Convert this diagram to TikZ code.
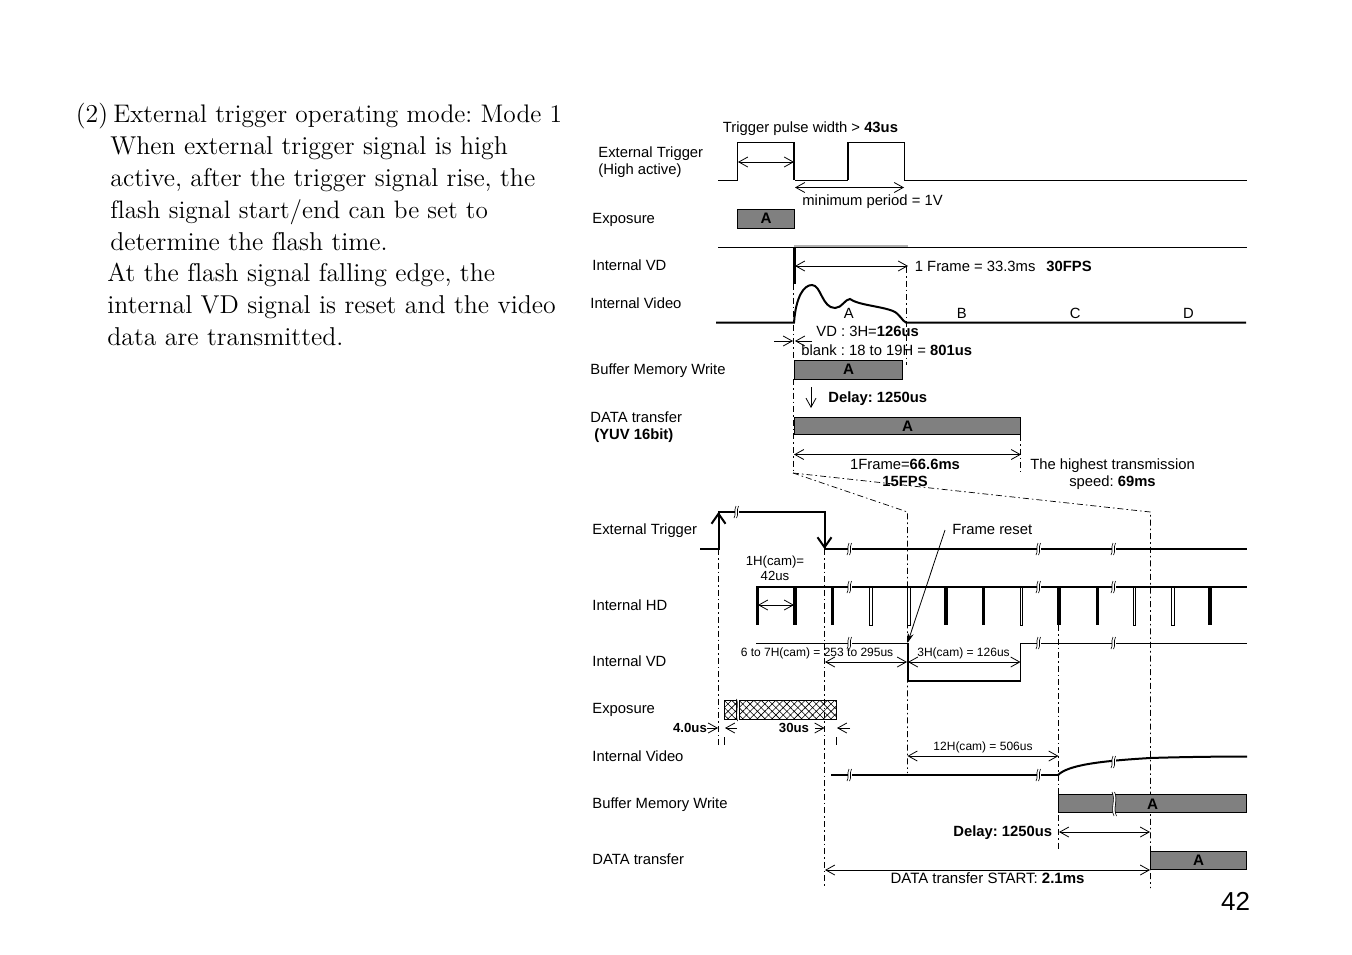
\documentclass[tikz,border=0pt]{standalone}
\usepackage{fontspec}
\setmainfont{Latin Modern Roman}[Ligatures=NoCommon]
\setsansfont{Liberation Sans}
\usetikzlibrary{arrows.meta}
\usetikzlibrary{patterns.meta}
\usetikzlibrary{positioning}

\frenchspacing
\tikzset{
  lbl/.style={anchor=west,inner sep=0pt,font=\sffamily\fontsize{7.4}{9}\selectfont,text height=7.3pt,text depth=1.6pt},
  mid/.style={lbl,anchor=center},
  tiny/.style={mid,font=\sffamily\fontsize{6}{8}\selectfont},
  tinybold/.style={mid,font=\sffamily\bfseries\fontsize{6.6}{8}\selectfont},
  para/.style={anchor=base west,inner sep=0pt,font=\fontsize{12.9}{15}\selectfont},
  databox/.style={draw,fill=black!50,line width=.5pt,inner sep=0pt,font=\sffamily\bfseries\fontsize{7.6}{9}\selectfont,text height=5.3pt,text depth=0pt},
  sig/.style={line width=.5pt},
  sigthick/.style={line width=1pt},
  cut/.style={line width=.35pt,dash pattern=on 3pt off 1.5pt on .8pt off 1.5pt},
  dim/.style={line width=.4pt,{Straight Barb[length=4.5pt,width=5pt]}-{Straight Barb[length=4.5pt,width=5pt]}},
  single/.style={line width=.4pt,-{Straight Barb[length=4.5pt,width=5pt]}},
  hatched/.style={sig,pattern={Hatch[angle=45,distance=2.6pt,line width=.3pt]}},
  brk/.pic={
    \fill[white] (-2,-5) rectangle (1.5,5);
    \draw[line width=.3pt] (-3,6) .. controls (-.5,2) and (-3.5,-1) .. (-1,-6);
    \draw[line width=.3pt] (-.5,6) .. controls (2,2) and (-1,-1) .. (1.5,-6);
  }
}

\begin{document}
\begin{tikzpicture}[x=.5pt,y=-.5pt]
  \useasboundingbox (0,0) rectangle (1352,954);

  % text on the left
  \node (par0) [para] at (75.5,122) {(2)};
  \node (par1) [para,font=\fontsize{12.7}{15}\selectfont] at (113,122) {External trigger operating mode: Mode 1};
  \node (par2) [para] at (110,154) {When external trigger signal is high};
  \node (par3) [para] at (110,186) {active, after the trigger signal rise, the};
  \node (par4) [para,font=\fontsize{12.6}{15}\selectfont] at (110,218) {flash signal start/end can be set to};
  \node (par5) [para] at (110,250) {determine the flash time.};
  \node (par6) [para] at (107,281) {At the flash signal falling edge, the};
  \node (par7) [para] at (107,313) {internal VD signal is reset and the video};
  \node (par8) [para] at (107,345) {data are transmitted.};

  % upper chart, names of the signals
  \node (extA) [lbl] at (598,152) {External Trigger};
  \node (extB) [lbl] at (598,169) {(High active)};
  \node (expo) [lbl] at (592,218) {Exposure};
  \node (vd) [lbl] at (592,265) {Internal VD};
  \node (video) [lbl] at (590,303) {Internal Video};
  \node (buf) [lbl] at (590,369) {Buffer Memory Write};
  \node (dataA) [lbl] at (590,417) {DATA transfer};
  \node (dataB) [lbl] at (594,434) {\bfseries (YUV 16bit)};

  % upper chart, signals
  \draw[sig] (718,180) -- (737.5,180) -- (737.5,142) -- (794,142);
  \draw[sig] (848,142) -- (904,142) -- (904,180) -- (1247,180);
  \draw[sig] (795,180) -- (848,180);
  \draw[sigthick] (794,142) -- (794,180) (848,142) -- (848,180);
  \draw[sig] (718,247) -- (1247,247);
  \draw[line width=.6pt,black!30] (794,246) -- (908,246);
  \draw[line width=1.5pt] (794.5,247) -- (794.5,284);
  \draw[sigthick] (716,322.5) -- (794,322.5)
    .. controls (796,296) and (804,285) .. (812,285)
    .. controls (821,285) and (822,308) .. (835,308)
    .. controls (842,308) and (845,299) .. (850,299)
    .. controls (858,305) and (880,306) .. (893,311)
    .. controls (900,314) and (902,321) .. (906,322.5) -- (1246,322.5);
  \node (frmA) [mid] at (848.7,313) {A};
  \node (frmB) [mid] at (961.7,313) {B};
  \node (frmC) [mid] at (1075.3,313) {C};
  \node (frmD) [mid] at (1188.5,313) {D};

  % upper chart, boxes
  \node (boxE) [databox,minimum width=28.5pt,minimum height=9.5pt] at (766,218.5) {A};
  \node (boxB) [databox,minimum width=54pt,minimum height=9.5pt] at (848.5,369.5) {A};
  \node (boxD) [databox,minimum width=113pt,minimum height=8.8pt] at (907.5,426) {A};

  % upper chart, cut lines
  \draw[cut] (793.5,284) -- (793.5,360) (793.5,379) -- (793.5,473);
  \draw[cut] (906.5,267) -- (906.5,365);
  \draw[cut] (1020.5,435) -- (1020.5,472);
  \draw[cut] (793,473) -- (907.5,512) -- (907.5,773);
  \draw[cut] (793,473) -- (1150.5,512) -- (1150.5,888);

  % upper chart, arrows
  \coordinate (wA) at (738,162); \coordinate (wB) at (794,162);
  \coordinate (pA) at (795,187.5); \coordinate (pB) at (904,187.5);
  \coordinate (fA) at (795,266); \coordinate (fB) at (908,266);
  \coordinate (tA) at (794,454.5); \coordinate (tB) at (1021,454.5);
  \coordinate (bA) at (774,341); \coordinate (bB) at (793,341);
  \coordinate (cA) at (812,341); \coordinate (cB) at (795,341);
  \coordinate (dA) at (811,387); \coordinate (dB) at (811,408);
  \path[dim]
    (wA) edge (wB)
    (pA) edge (pB)
    (fA) edge (fB)
    (tA) edge (tB);
  \path[single]
    (bA) edge (bB)
    (cA) edge (cB)
    (dA) edge (dB);

  % upper chart, notes
  \node (wid) [lbl] at (722.5,127) {Trigger pulse width > \textbf{43us}};
  \node (per) [lbl] at (802,200) {minimum period = 1V};
  \node (frm) [lbl] at (914.5,266) {1 Frame = 33.3ms\hspace{5.5pt}\textbf{30FPS}};
  \node (vdh) [lbl] at (816,331) {VD : 3H=\textbf{126us}};
  \node (blk) [lbl] at (801,350) {blank : 18 to 19H = \textbf{801us}};
  \node (dly) [lbl] at (828,397) {\bfseries Delay: 1250us};
  \node (fps) [mid] at (905,464) {1Frame=\textbf{66.6ms}};
  \node (fpsB) [mid] at (905,481) {\bfseries 15FPS};
  \node (spd) [mid] at (1112.5,464) {The highest transmission};
  \node (spdB) [mid] at (1112.5,481) {speed: \textbf{69ms}};

  % lower chart, names of the signals
  \node (ext2) [lbl] at (592,529) {External Trigger};
  \node (hd2) [lbl] at (592,605) {Internal HD};
  \node (vd2) [lbl] at (592,661) {Internal VD};
  \node (expo2) [lbl] at (592,708) {Exposure};
  \node (video2) [lbl] at (592,756) {Internal Video};
  \node (buf2) [lbl] at (592,803) {Buffer Memory Write};
  \node (data2) [lbl] at (592,859) {DATA transfer};

  % lower chart, signals
  \draw[cut] (718.5,549) -- (718.5,747);
  \draw[cut] (824.5,549) -- (824.5,888);
  \draw[cut] (1058.5,625) -- (1058.5,850);
  \draw[sigthick] (700,549) -- (718.5,549) -- (718.5,512) -- (824.5,512) -- (824.5,549) -- (1247,549);
  \draw[sigthick,-{Straight Barb[length=5pt,width=7pt]}] (718.5,535) -- (718.5,512);
  \draw[sigthick,-{Straight Barb[length=5pt,width=7pt]}] (824.5,525) -- (824.5,549);

  \draw[sigthick] (756,587) -- (1247,587);
  \draw[line width=1.5pt] (757.5,587) -- (757.5,625) (832.5,587) -- (832.5,625)
    (983.5,587) -- (983.5,625) (1097,587) -- (1097,625);
  \draw[line width=2pt] (795,587) -- (795,625) (946,587) -- (946,625) (1059,587) -- (1059,625) (1210,587) -- (1210,625);
  \draw[sig,fill=white] (869.5,587) rectangle (872,625);
  \draw[sig,fill=white] (907.5,587) rectangle (910,625);
  \draw[sig,fill=white] (1020,587) rectangle (1022.5,625);
  \draw[sig,fill=white] (1133,587) rectangle (1135.5,625);
  \draw[sig,fill=white] (1171.5,587) rectangle (1174,625);

  \draw[sig] (756,643) -- (907.5,643);
  \draw[sigthick] (907.5,643) -- (907.5,681) -- (1020.5,681);
  \draw[sig] (1020.5,681) -- (1020.5,643) -- (1247,643);

  \draw[sigthick] (831,775) -- (1058,775);
  \draw[sigthick] (1058,775) .. controls (1068,765) and (1100,761) .. (1150,758) .. controls (1180,757) and (1220,756.5) .. (1247,756.5);

  % lower chart, breaks
  \pic at (737,512) {brk};
  \pic at (850,549) {brk};
  \pic at (1039,549) {brk};
  \pic at (1114,549) {brk};
  \pic at (850,587) {brk};
  \pic at (1039,587) {brk};
  \pic at (1114,587) {brk};
  \pic at (850,643) {brk};
  \pic at (1039,643) {brk};
  \pic at (1114,643) {brk};
  \pic at (850,775) {brk};
  \pic at (1039,775) {brk};
  \pic at (1114,762) {brk};

  % lower chart, exposure
  \draw[hatched] (724,700.5) rectangle (736,719.5);
  \draw[hatched] (739,700.5) rectangle (836.5,719.5);
  \draw[line width=.3pt] (736.5,699) .. controls (739,705) and (735,714) .. (737.5,721);
  \draw[sig] (724.5,737) -- (724.5,745) (836.5,737) -- (836.5,745);

  % lower chart, boxes
  \node (boxB2) [databox,minimum width=94pt,minimum height=9.3pt,text height=0pt] at (1152.5,803.5) {};
  \draw[white,line width=1pt] (1113,792) .. controls (1117,800) and (1111,808) .. (1115,816);
  \draw[line width=.3pt] (1112,792) .. controls (1116,800) and (1110,808) .. (1114,816);
  \draw[line width=.3pt] (1114.5,792) .. controls (1118.5,800) and (1112.5,808) .. (1116.5,816);
  \node (boxA2) [mid,font=\sffamily\bfseries\fontsize{7.6}{9}\selectfont] at (boxB2) {A};
  \node (boxD2) [databox,minimum width=48pt,minimum height=9.3pt] at (1198.5,860.5) {A};

  % lower chart, arrows
  \coordinate (hA) at (758,605); \coordinate (hB) at (794,605);
  \coordinate (sA) at (825,662); \coordinate (sB) at (907,662);
  \coordinate (rA) at (908,662); \coordinate (rB) at (1020.5,662);
  \coordinate (lA) at (907.5,756); \coordinate (lB) at (1058.5,756);
  \coordinate (yA) at (1059,832); \coordinate (yB) at (1150,832);
  \coordinate (xA) at (825,870); \coordinate (xB) at (1150,870);
  \coordinate (eA) at (707,728); \coordinate (eB) at (718,728);
  \coordinate (eC) at (737,728); \coordinate (eD) at (725,728);
  \coordinate (eE) at (815,728); \coordinate (eF) at (824.5,728);
  \coordinate (eG) at (850,728); \coordinate (eH) at (837,728);
  \coordinate (rst) at (945,530); \coordinate (rstB) at (907.5,643);
  \path[dim]
    (hA) edge (hB)
    (sA) edge (sB)
    (rA) edge (rB)
    (lA) edge (lB)
    (yA) edge (yB)
    (xA) edge (xB);
  \path[single]
    (eA) edge (eB)
    (eC) edge (eD)
    (eE) edge (eF)
    (eG) edge (eH);
  \draw[line width=.4pt,-{Stealth[length=5pt,width=3pt]}] (rst) -- (rstB);

  % lower chart, notes
  \node (rsttx) [lbl] at (952,529) {Frame reset};
  \node (hcam) [mid,font=\sffamily\fontsize{6.6}{8}\selectfont] at (775,560) {1H(cam)=};
  \node (hcamB) [mid,font=\sffamily\fontsize{6.6}{8}\selectfont] at (775,575) {42us};
  \node (sev) [tiny] at (817,651) {6 to 7H(cam) = 253 to 295us};
  \node (thr) [tiny] at (963.5,651) {3H(cam) = 126us};
  \node (twl) [tiny] at (983,745) {12H(cam) = 506us};
  \node (fou) [tinybold] at (690,727) {4.0us};
  \node (thi) [tinybold] at (794,727) {30us};
  \node (dly2) [lbl] at (953,831) {\bfseries Delay: 1250us};
  \node (srt) [mid,font=\sffamily\fontsize{7.5}{9}\selectfont] at (987.5,878) {DATA transfer START: \textbf{2.1ms}};

  % page number
  \node (pg) [mid,font=\sffamily\fontsize{13}{15}\selectfont,text height=11pt] at (1235.5,901) {42};
\end{tikzpicture}
\end{document}
